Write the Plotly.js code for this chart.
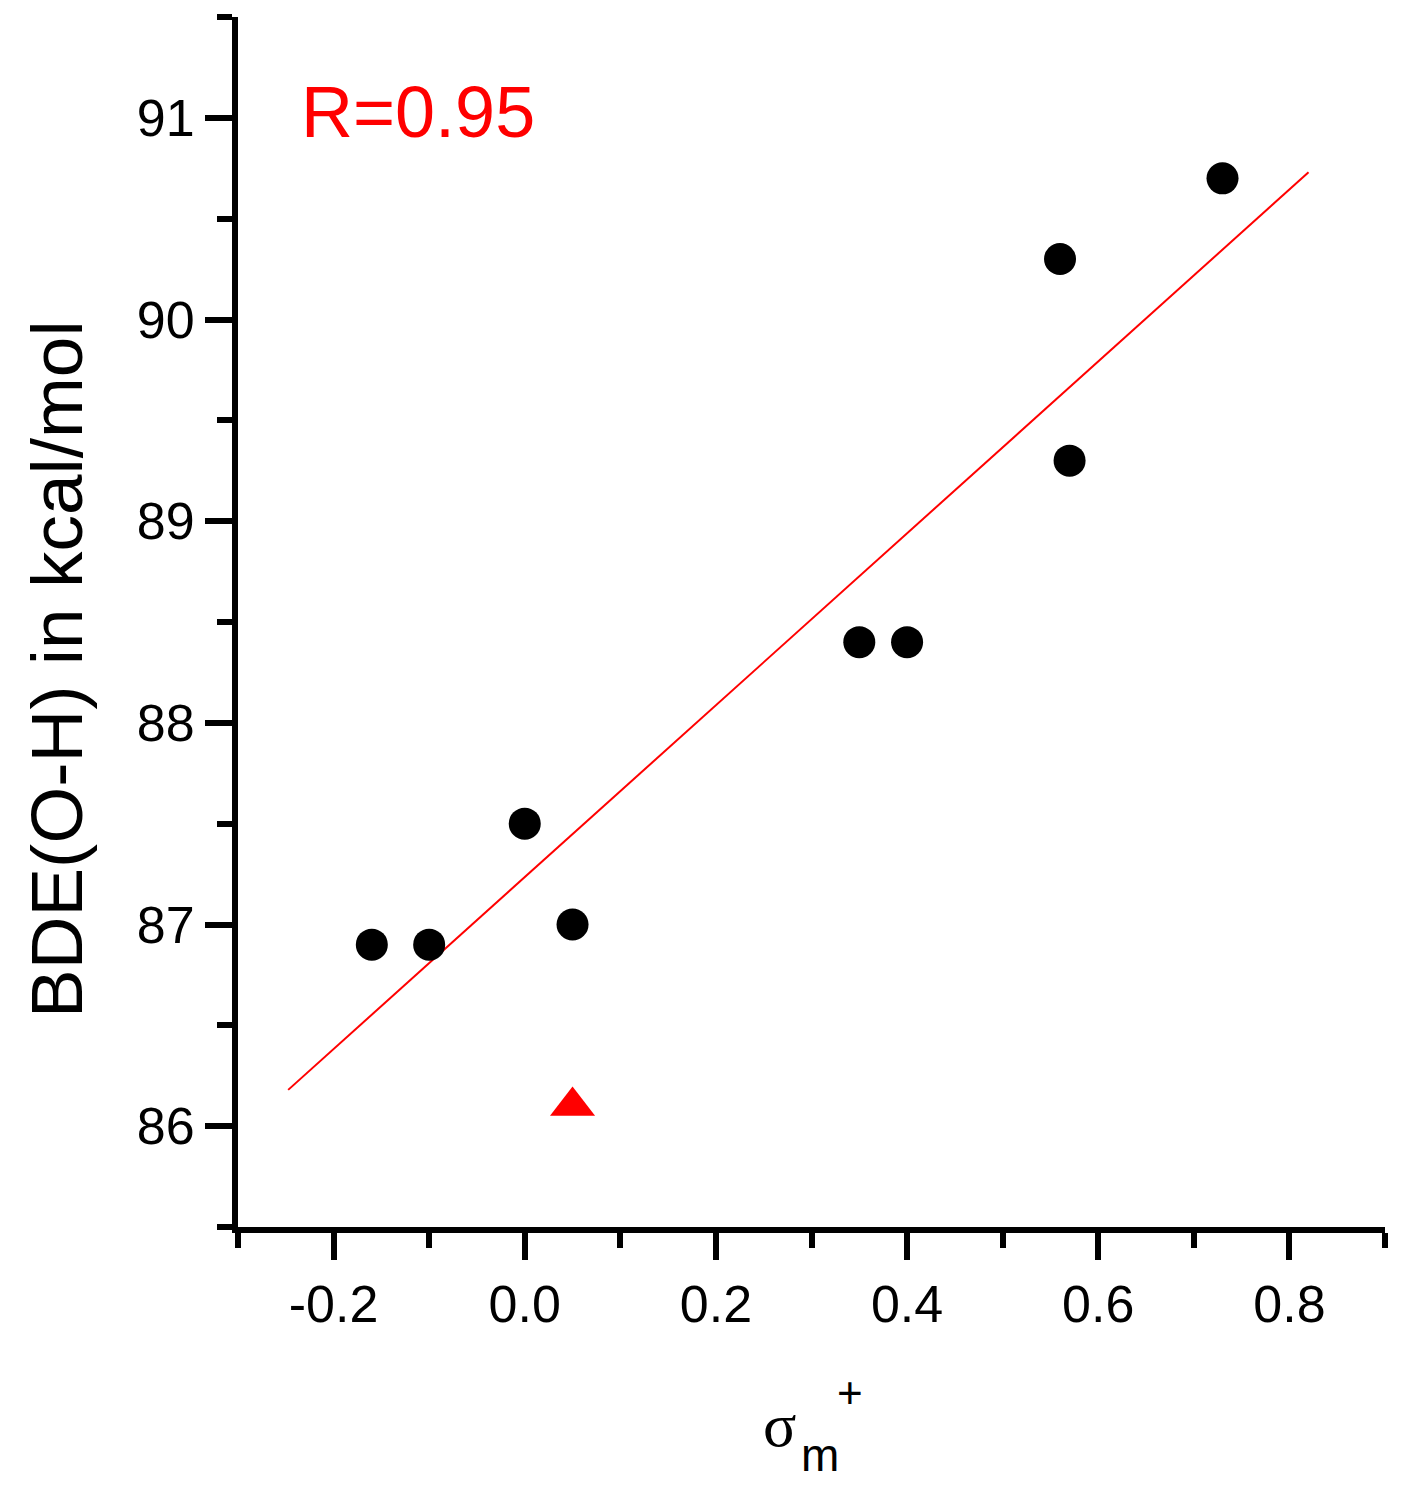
<!DOCTYPE html>
<html>
<head>
<meta charset="utf-8">
<script src="https://cdn.plot.ly/plotly-3.0.1.min.js"></script>
<style>html,body{margin:0;padding:0;background:#fff;}#chart{width:1401px;height:1496px;}</style>
</head>
<body>
<div id="chart"></div>
<script>
// Data
var sigmaX = [-0.16, -0.10, 0.00, 0.05, 0.35, 0.40, 0.56, 0.57, 0.73];
var bdeY = [86.9, 86.9, 87.5, 87.0, 88.4, 88.4, 90.3, 89.3, 90.7];
var outlierX = [0.05];
var outlierY = [86.1];
var fitX = [-0.2475, 0.82];
var fitY = [86.18, 90.73];
var xTickVals = [-0.2, 0.0, 0.2, 0.4, 0.6, 0.8];
var xTickText = ['-0.2', '0.0', '0.2', '0.4', '0.6', '0.8'];
var yTickVals = [86, 87, 88, 89, 90, 91];
var yTickText = ['86', '87', '88', '89', '90', '91'];
var yTitle = 'BDE(O-H) in kcal/mol';
var xTitleMain = 'σ';
var xTitleSub = 'm';
var xTitleSup = '+';
var rLabel = 'R=0.95';

var traces = [
  {x: fitX, y: fitY, mode: 'lines', type: 'scatter',
   line: {color: '#ff0000', width: 2}, hoverinfo: 'skip'},
  {x: sigmaX, y: bdeY, mode: 'markers', type: 'scatter',
   marker: {color: '#000000', size: 32, symbol: 'circle'}},
  {x: outlierX, y: outlierY, mode: 'markers', type: 'scatter',
   marker: {color: '#ff0000', size: 39, symbol: 'triangle-up'}}
];

var fontFam = 'Liberation Sans, Arial, sans-serif';
var L = 238, T = 17, W = 1147, H = 1210;
function px(x) { return (x - L) / W; }
function py(y) { return 1 - (y - T) / H; }

var layout = {
  width: 1401, height: 1496,
  margin: {l: L, r: 1401 - L - W, t: T, b: 1496 - T - H},
  paper_bgcolor: '#ffffff', plot_bgcolor: '#ffffff',
  showlegend: false,
  font: {family: fontFam, color: '#000'},
  xaxis: {
    range: [-0.3, 0.9], showgrid: false, zeroline: false,
    showline: true, linecolor: '#000', linewidth: 6,
    ticks: 'outside', ticklen: 27, tickwidth: 6, tickcolor: '#000',
    tickmode: 'array', tickvals: xTickVals, ticktext: xTickText,
    tickfont: {size: 52, family: fontFam, color: '#000'},
    minor: {dtick: 0.1, tick0: 0, ticks: 'outside', ticklen: 15, tickwidth: 6, tickcolor: '#000', showgrid: false},
    automargin: false
  },
  yaxis: {
    range: [85.5, 91.5], showgrid: false, zeroline: false,
    showline: true, linecolor: '#000', linewidth: 6,
    ticks: 'outside', ticklen: 27, tickwidth: 6, tickcolor: '#000',
    tickmode: 'array', tickvals: yTickVals, ticktext: yTickText,
    tickfont: {size: 52, family: fontFam, color: '#000'},
    minor: {dtick: 0.5, tick0: 0, ticks: 'outside', ticklen: 15, tickwidth: 6, tickcolor: '#000', showgrid: false},
    automargin: false
  },
  annotations: [
    {text: rLabel, xref: 'paper', yref: 'paper', x: px(299), y: py(112),
     xanchor: 'left', yanchor: 'middle', showarrow: false,
     font: {size: 72, family: fontFam, color: '#ff0000'}},
    {text: yTitle, xref: 'paper', yref: 'paper', x: px(56), y: py(669),
     xanchor: 'center', yanchor: 'middle', textangle: -90, showarrow: false,
     font: {size: 73, family: fontFam, color: '#000'}},
    {text: xTitleMain, xref: 'paper', yref: 'paper', x: px(779), y: py(1425),
     xanchor: 'center', yanchor: 'middle', showarrow: false,
     font: {size: 62, family: 'Liberation Serif, Times New Roman, serif', color: '#000'}},
    {text: xTitleSub, xref: 'paper', yref: 'paper', x: px(820), y: py(1455),
     xanchor: 'center', yanchor: 'middle', showarrow: false,
     font: {size: 46, family: fontFam, color: '#000'}},
    {text: xTitleSup, xref: 'paper', yref: 'paper', x: px(850), y: py(1392),
     xanchor: 'center', yanchor: 'middle', showarrow: false,
     font: {size: 44, family: fontFam, color: '#000'}}
  ]
};

Plotly.newPlot('chart', traces, layout, {displayModeBar: false, staticPlot: true});
</script>
</body>
</html>
